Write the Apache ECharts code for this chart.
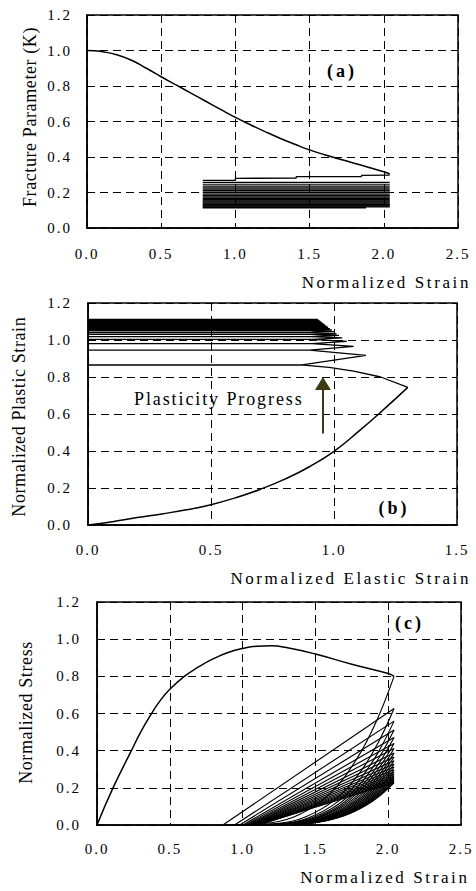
<!DOCTYPE html>
<html><head><meta charset="utf-8">
<script src="https://cdn.jsdelivr.net/npm/echarts/dist/echarts.min.js"></script>
<style>html,body{margin:0;padding:0;background:#fff}#chart{width:476px;height:891px}</style>
</head><body><div id="chart"></div>
<script>
// ---------- Panel (a): Fracture parameter K vs normalized strain ----------
const aStrain = [0,0.05,0.1,0.2,0.3,0.4,0.5,0.6,0.7,0.8,0.9,1.0,1.1,1.2,1.3,1.4,1.5,1.6,1.7,1.8,1.9,2.0,2.04];
const aK      = [1.0,0.999,0.994,0.976,0.945,0.9,0.852,0.806,0.76,0.714,0.668,0.623,0.582,0.543,0.506,0.472,0.44,0.413,0.389,0.365,0.341,0.317,0.304];
const aFirstStrain = [2.04,1.85,1.85,1.41,1.41,1.0,1.0,0.78];
const aFirstK      = [0.298,0.296,0.29,0.289,0.281,0.28,0.268,0.268];
const aCycleK     = [0.256,0.243,0.231,0.220,0.210,0.200,0.191,0.182,0.174,0.166,0.159,0.152,0.146,0.140,0.134,0.129,0.124,0.119,0.114];
const aCycleStart = [0.78,0.78,0.78,0.78,0.78,0.78,0.78,0.78,0.78,0.78,0.78,0.78,0.78,0.78,0.78,0.78,0.78,0.78,0.78];
const aCycleEnd   = [2.04,2.04,2.04,2.04,2.04,2.04,2.04,2.04,2.04,2.04,2.04,2.04,2.04,2.04,2.04,2.04,2.04,2.04,1.88];

// ---------- Panel (b): plastic vs elastic strain ----------
const bElastic = [0,0.1,0.2,0.3,0.4,0.5,0.6,0.7,0.8,0.9,1.0,1.1,1.2,1.3];
const bPlastic = [0,0.018,0.04,0.06,0.082,0.11,0.147,0.193,0.248,0.315,0.398,0.506,0.622,0.744];
const bUnloadE = [1.3,1.19,1.08,0.98,0.9,0.87];
const bUnloadP = [0.744,0.80,0.832,0.852,0.862,0.865];
const bZeroP  = [0.865,0.945,0.98,1.003,1.018,1.03,1.04,1.05,1.058,1.065,1.072,1.078,1.084,1.089,1.094,1.098,1.102,1.106,1.109,1.112];
const bKneeE  = [0.87,0.9,0.91,0.91,0.91,0.9,0.9,0.9,0.89,0.89,0.88,0.88,0.87,0.87,0.86,0.86,0.85,0.85,0.85,0.85];
const bTipE   = [1.13,1.08,1.052,1.033,1.02,1.01,1.0,0.991,0.983,0.976,0.97,0.964,0.958,0.953,0.949,0.945,0.941,0.937,0.934];
const bTipP   = [0.917,0.965,0.993,1.012,1.025,1.035,1.045,1.054,1.062,1.069,1.075,1.081,1.087,1.092,1.096,1.1,1.104,1.108,1.111];
const arrowE = 0.955, arrowFromP = 0.495, arrowToP = 0.765;

// ---------- Panel (c): normalized stress vs strain ----------
const cStrain = [0,0.11,0.236,0.3,0.367,0.43,0.5,0.6,0.7,0.8,0.9,1.0,1.1,1.2,1.3,1.5,1.75,2.0,2.04];
const cStress = [0,0.2,0.4,0.5,0.59,0.665,0.73,0.8,0.852,0.895,0.928,0.95,0.962,0.964,0.955,0.92,0.865,0.815,0.80];
const cUnloadStrain = [
 [2.04,1.920,1.787,1.608,1.390,1.194,0.865],
 [2.04,1.928,1.805,1.637,1.434,1.252,0.945],
 [2.04,1.931,1.812,1.650,1.454,1.277,0.980],
 [2.04,1.934,1.817,1.658,1.466,1.293,1.003],
 [2.04,1.935,1.820,1.664,1.475,1.304,1.018],
 [2.04,1.937,1.823,1.668,1.481,1.313,1.030],
 [2.04,1.938,1.825,1.672,1.487,1.320,1.040],
 [2.04,1.939,1.827,1.676,1.492,1.327,1.050],
 [2.04,1.939,1.829,1.679,1.497,1.333,1.058],
 [2.04,1.940,1.830,1.681,1.501,1.338,1.065],
 [2.04,1.941,1.832,1.684,1.504,1.343,1.072],
 [2.04,1.941,1.833,1.686,1.508,1.347,1.078],
 [2.04,1.942,1.834,1.688,1.511,1.352,1.084],
 [2.04,1.943,1.836,1.690,1.514,1.355,1.089],
 [2.04,1.943,1.837,1.692,1.517,1.359,1.094],
 [2.04,1.944,1.837,1.693,1.519,1.362,1.098],
 [2.04,1.944,1.838,1.695,1.521,1.365,1.102],
 [2.04,1.944,1.839,1.696,1.523,1.368,1.106],
 [2.04,1.945,1.840,1.697,1.525,1.370,1.109],
 [2.04,1.945,1.840,1.699,1.527,1.373,1.112]];
const cUnloadStress = [
 [0.800,0.560,0.360,0.176,0.056,0.012,0],
 [0.627,0.439,0.282,0.138,0.044,0.009,0],
 [0.559,0.391,0.252,0.123,0.039,0.008,0],
 [0.511,0.358,0.230,0.112,0.036,0.008,0],
 [0.471,0.330,0.212,0.104,0.033,0.007,0],
 [0.439,0.307,0.198,0.097,0.031,0.007,0],
 [0.412,0.288,0.185,0.091,0.029,0.006,0],
 [0.387,0.271,0.174,0.085,0.027,0.006,0],
 [0.366,0.256,0.165,0.081,0.026,0.005,0],
 [0.346,0.242,0.156,0.076,0.024,0.005,0],
 [0.328,0.230,0.148,0.072,0.023,0.005,0],
 [0.312,0.218,0.140,0.069,0.022,0.005,0],
 [0.297,0.208,0.134,0.065,0.021,0.004,0],
 [0.284,0.199,0.128,0.062,0.020,0.004,0],
 [0.272,0.190,0.122,0.060,0.019,0.004,0],
 [0.261,0.183,0.117,0.057,0.018,0.004,0],
 [0.251,0.176,0.113,0.055,0.018,0.004,0],
 [0.242,0.169,0.109,0.053,0.017,0.004,0],
 [0.234,0.164,0.105,0.051,0.016,0.004,0],
 [0.227,0.159,0.102,0.050,0.016,0.003,0]];

// ---------- tick settings ----------
const yTickMax = 1.2, yTickStep = 0.2, xTickStep = 0.5;
const xMaxA = 2.5, xMaxB = 1.5, xMaxC = 2.5;

const FONT = '"Liberation Serif", "Times New Roman", serif';
const chart = echarts.init(document.getElementById('chart'), null, {renderer: 'svg', width: 476, height: 891});

const gridBase = {show: true, borderColor: '#000', borderWidth: 1.5, backgroundColor: 'rgba(0,0,0,0)', containLabel: false, outerBoundsMode: 'none'};
const grids = [
  Object.assign({}, gridBase, {left: 87, top: 15, width: 371, height: 213}),
  Object.assign({}, gridBase, {left: 88, top: 303, width: 369, height: 222}),
  Object.assign({}, gridBase, {left: 97, top: 602, width: 364, height: 223})
];
const fmt = v => v.toFixed(1);
const split = {show: true, lineStyle: {color: '#000', width: 1, type: [8, 5]}};
function xAx(i, max, margin) {
  return {gridIndex: i, type: 'value', min: 0, max: max, interval: xTickStep,
    axisLine: {show: true, onZero: false, lineStyle: {color: '#000', width: 1.5}},
    axisTick: {show: false},
    axisLabel: {show: true, color: '#000', fontFamily: FONT, fontSize: 15, margin: margin, formatter: fmt, showMinLabel: true, showMaxLabel: true, hideOverlap: false},
    splitLine: split};
}
function yAx(i, margin) {
  return {gridIndex: i, type: 'value', min: 0, max: yTickMax, interval: yTickStep,
    axisLine: {show: true, onZero: false, lineStyle: {color: '#000', width: 1.5}},
    axisTick: {show: false},
    axisLabel: {show: true, color: '#000', fontFamily: FONT, fontSize: 15, margin: margin, formatter: fmt, showMinLabel: true, showMaxLabel: true, hideOverlap: false},
    splitLine: split};
}

const base = {type: 'line', symbol: 'none', showSymbol: false, silent: true, animation: false, clip: true};
const series = [];
// (a)
series.push(Object.assign({}, base, {xAxisIndex: 0, yAxisIndex: 0, smooth: 0.5, lineStyle: {color: '#000', width: 1.5},
  data: aStrain.map((x, i) => [x, aK[i]])}));
series.push(Object.assign({}, base, {xAxisIndex: 0, yAxisIndex: 0, lineStyle: {color: '#000', width: 1.3},
  data: aFirstStrain.map((x, i) => [x, aFirstK[i]])}));
aCycleK.forEach((k, i) => series.push(Object.assign({}, base, {xAxisIndex: 0, yAxisIndex: 0, lineStyle: {color: '#000', width: 1.4},
  data: [[aCycleStart[i], k], [aCycleEnd[i], k]]})));
// (b)
series.push(Object.assign({}, base, {xAxisIndex: 1, yAxisIndex: 1, smooth: 0.5, lineStyle: {color: '#000', width: 1.5},
  data: bElastic.map((x, i) => [x, bPlastic[i]])}));
const bPath = bUnloadE.map((x, i) => [x, bUnloadP[i]]);
bPath.push([0, bZeroP[0]]);
for (let i = 1; i < bZeroP.length; i++) {
  bPath.push([bKneeE[i - 1], bZeroP[i - 1]]);
  bPath.push([bTipE[i - 1], bTipP[i - 1]]);
  bPath.push([bKneeE[i], bZeroP[i]]);
  bPath.push([0, bZeroP[i]]);
}
series.push(Object.assign({}, base, {xAxisIndex: 1, yAxisIndex: 1, lineStyle: {color: '#000', width: 1.3}, data: bPath,
  markLine: {silent: true, animation: false, symbol: ['none', 'triangle'], label: {show: false},
    lineStyle: {color: '#3b3a12', width: 2, type: 'solid'},
    emphasis: {disabled: true},
    data: [[{coord: [arrowE, arrowFromP], symbol: 'none'}, {coord: [arrowE, arrowToP], symbol: 'triangle', symbolSize: [16, 13]}]]}}));
// (c)
series.push(Object.assign({}, base, {xAxisIndex: 2, yAxisIndex: 2, smooth: 0.5, lineStyle: {color: '#000', width: 1.5},
  data: cStrain.map((x, i) => [x, cStress[i]])}));
cUnloadStrain.forEach((xs, i) => {
  series.push(Object.assign({}, base, {xAxisIndex: 2, yAxisIndex: 2, smooth: 0.4, lineStyle: {color: '#000', width: 1.15},
    data: xs.map((x, j) => [x, cUnloadStress[i][j]])}));
  if (i + 1 < cUnloadStrain.length) {
    series.push(Object.assign({}, base, {xAxisIndex: 2, yAxisIndex: 2, lineStyle: {color: '#000', width: 1.15},
      data: [[xs[xs.length - 1], 0], [cUnloadStrain[i + 1][0], cUnloadStress[i + 1][0]]]}));
  }
});

function txt(text, x, y, font, align, rot) {
  return {type: 'text', x: x, y: y, rotation: rot || 0, silent: true, z: 100,
    style: {text: text, x: 0, y: 0, fill: '#000', font: font, align: align, verticalAlign: 'middle', textAlign: align, textVerticalAlign: 'middle'}};
}
const F17 = '17px ' + FONT, F18 = '18px ' + FONT, FB = 'bold 18px ' + FONT;
const graphic = [
  txt('Normalized Strain', 471, 282.5, F17, 'right'),
  txt('Normalized Elastic Strain', 471, 578.3, F17, 'right'),
  txt('Normalized Strain', 469.5, 877.6, F17, 'right'),
  txt('Fracture Parameter (K)', 29.5, 117, F18, 'center', Math.PI / 2),
  txt('Normalized Plastic Strain', 18.5, 416.7, F18, 'center', Math.PI / 2),
  txt('Normalized Stress', 25.5, 712.5, F18, 'center', Math.PI / 2),
  txt('(a)', 342, 71, FB, 'center'),
  txt('(b)', 394, 507.5, FB, 'center'),
  txt('(c)', 409.5, 623, FB, 'center'),
  txt('Plasticity Progress', 134, 399, F18, 'left')
];

chart.setOption({
  animation: false,
  backgroundColor: '#fff',
  textStyle: {fontFamily: FONT},
  grid: grids,
  xAxis: [xAx(0, xMaxA, 18), xAx(1, xMaxB, 17), xAx(2, xMaxC, 16)],
  yAxis: [yAx(0, 15), yAx(1, 16), yAx(2, 16)],
  series: series,
  graphic: graphic
});

function applySpacing() {
  document.querySelectorAll('#chart svg text').forEach(t => {
    const s = t.textContent;
    let ls = '0.6px';
    if (/^\d\.\d$/.test(s)) ls = '2px';
    else if (s === 'Normalized Strain' || s === 'Normalized Elastic Strain') ls = '2.6px';
    else if (s === 'Plasticity Progress') ls = '1.9px';
    else if (/^\([abc]\)$/.test(s)) ls = '3px';
    t.style.letterSpacing = ls;
  });
}
applySpacing();
chart.on('finished', applySpacing);
</script></body></html>
